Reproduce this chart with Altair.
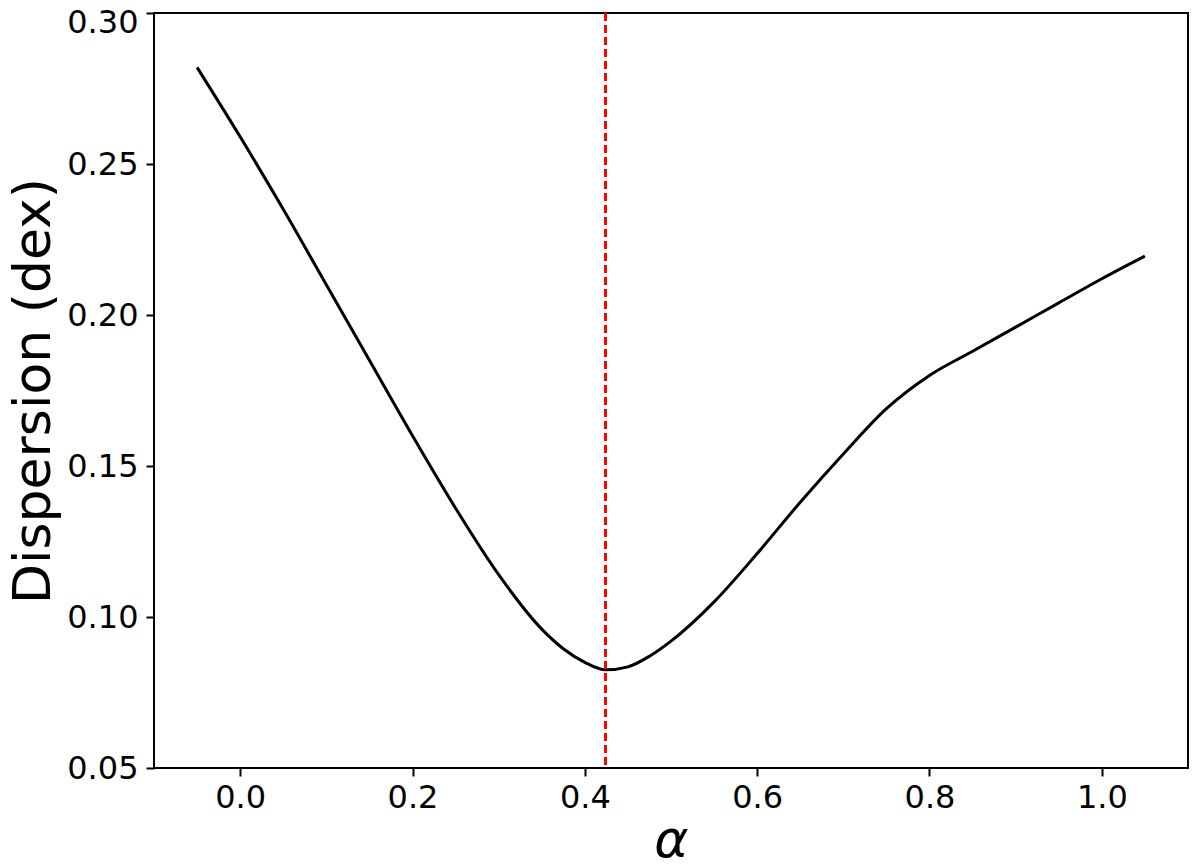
import altair as alt
import pandas as pd

alpha = [-0.05, 0.0, 0.05, 0.1, 0.15, 0.2, 0.25, 0.3, 0.35, 0.375, 0.4, 0.424, 0.45,
         0.475, 0.5, 0.55, 0.6, 0.65, 0.7, 0.75, 0.8, 0.85, 0.9, 0.95, 1.0, 1.05]
dispersion = [0.282, 0.259, 0.235, 0.210, 0.185, 0.160, 0.136, 0.114, 0.096, 0.0895,
              0.0850, 0.0825, 0.0835, 0.0870, 0.092, 0.105, 0.121, 0.138, 0.154, 0.169,
              0.180, 0.188, 0.196, 0.204, 0.212, 0.2195]
best_alpha = [0.424]

xticks = [0.0, 0.2, 0.4, 0.6, 0.8, 1.0]
yticks = [0.05, 0.10, 0.15, 0.20, 0.25, 0.30]

df = pd.DataFrame({"alpha": alpha, "disp": dispersion})
dfv = pd.DataFrame({"alpha": best_alpha})

xscale = alt.Scale(domain=[-0.1, 1.1], nice=False, zero=False)
yscale = alt.Scale(domain=[0.05, 0.30], nice=False, zero=False)

font = "DejaVu Sans"

xaxis = alt.Axis(values=xticks, format=".1f", title="α", grid=False,
                 tickSize=8, tickColor="black", tickWidth=2,
                 labelFontSize=32, labelFont=font, labelColor="black", labelPadding=6,
                 titleFontSize=52, titleFont=font, titleFontStyle="italic",
                 titleFontWeight="normal", titleColor="black", titlePadding=2,
                 domain=False)
yaxis = alt.Axis(values=yticks, format=".2f", title="Dispersion (dex)", grid=False,
                 tickSize=8, tickColor="black", tickWidth=2,
                 labelFontSize=32, labelFont=font, labelColor="black", labelPadding=8,
                 labelOffset=alt.expr("datum.value > 0.29 ? 9 : 0"),
                 titleFontSize=52, titleFont=font, titleFontWeight="normal",
                 titleColor="black", titlePadding=6, domain=False)

line = alt.Chart(df).mark_line(color="black", strokeWidth=3, interpolate="monotone").encode(
    x=alt.X("alpha:Q", scale=xscale, axis=xaxis),
    y=alt.Y("disp:Q", scale=yscale, axis=yaxis),
)

vline = alt.Chart(dfv).mark_rule(color="#ff0000", strokeWidth=3, strokeDash=[8, 4]).encode(
    x=alt.X("alpha:Q", scale=xscale),
)

chart = alt.layer(line, vline).properties(
    width=1034, height=755,
    autosize=alt.AutoSizeParams(type="none"),
    padding={"left": 146, "top": 5, "right": 4, "bottom": 110},
).configure(background="white").configure_view(stroke="black", strokeWidth=2)

chart.save("out.html", embed_options={"renderer": "svg", "actions": False})
